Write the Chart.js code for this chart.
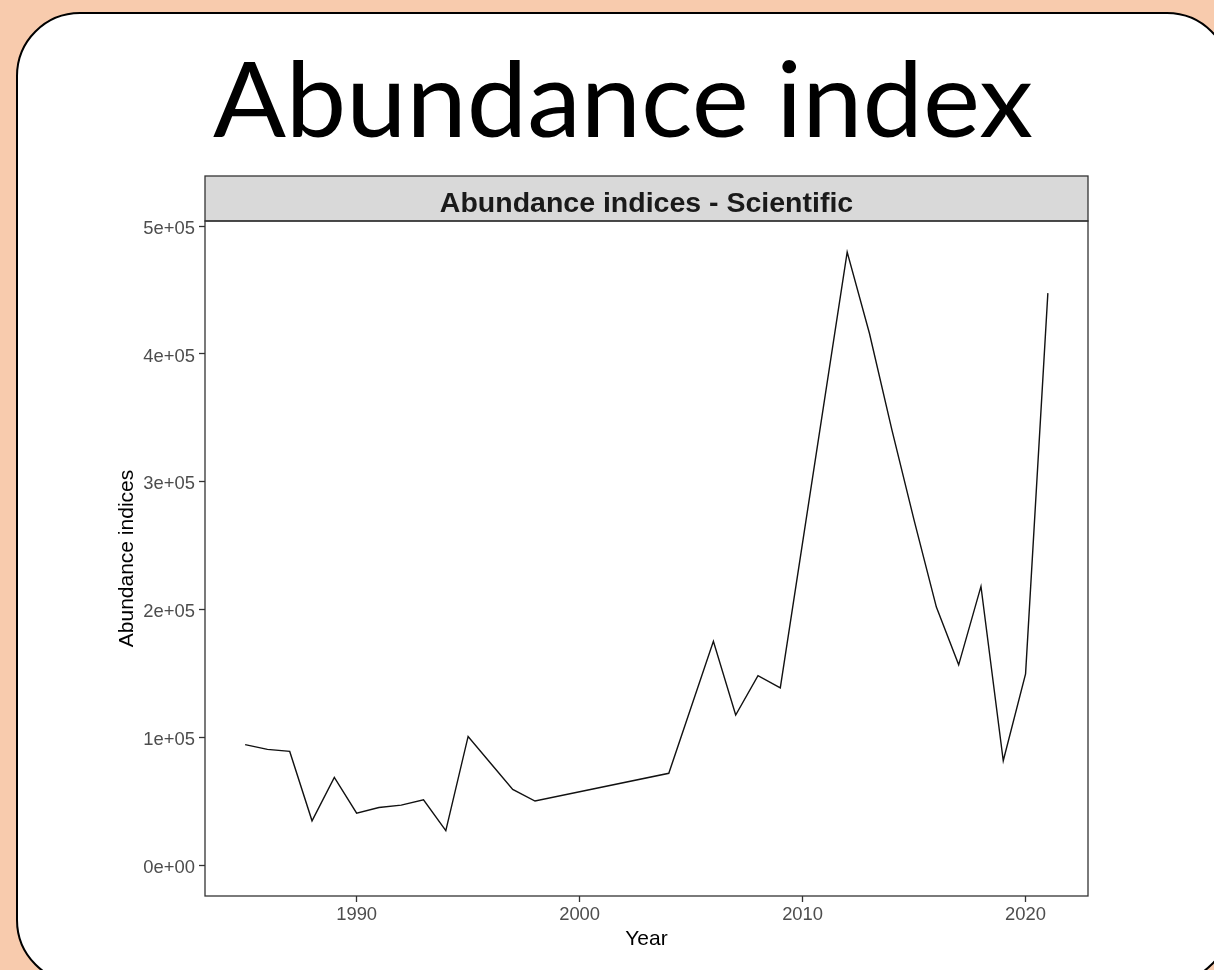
<!DOCTYPE html>
<html>
<head>
<meta charset="utf-8">
<title>Abundance index</title>
<script src="https://cdn.jsdelivr.net/npm/chart.js@4.4.1/dist/chart.umd.min.js"></script>
<style>
  html, body { margin: 0; padding: 0; }
  body { width: 1214px; height: 970px; overflow: hidden; background: #F8CBAD; position: relative; }
  #card { position: absolute; left: 16px; top: 12px; width: 1215px; height: 972px; box-sizing: border-box;
          border: 2.5px solid #000; border-radius: 64px; background: #fff; }
  #heading { position: absolute; left: 0; top: 0; }
  #wrap { position: absolute; left: 0; top: 0; width: 1214px; height: 970px; }
</style>
</head>
<body>
<div id="card"></div>
<svg id="heading" width="1214" height="170">
  <text x="213" y="137" textLength="820" lengthAdjust="spacingAndGlyphs"
        font-family="Lato" font-size="105" fill="#000">Abundance index</text>
</svg>
<div id="wrap"><canvas id="chart" width="1214" height="970"></canvas></div>
<script>
// Survey years and the scientific abundance index for each
const years = [1985, 1986, 1987, 1988, 1989, 1990, 1991, 1992, 1993, 1994, 1995, 1996, 1997, 1998,
               2004, 2006, 2007, 2008, 2009, 2012, 2013, 2014, 2015, 2016, 2017, 2018, 2019, 2020, 2021];
const abundance = [94400, 90700, 89100, 34800, 68700, 40800, 45200, 47100, 51200, 27200, 100800, 80000, 59400, 50300,
                   72000, 175300, 117600, 148400, 138800, 479700, 416000, 341000, 270000, 202000, 156800, 218200, 81800, 149800, 447600];

// Axis ticks
const yearTicks = [1990, 2000, 2010, 2020];
const yearTickLabels = ['1990', '2000', '2010', '2020'];
const abundanceTicks = [0, 100000, 200000, 300000, 400000, 500000];
const abundanceTickLabels = ['0e+00', '1e+05', '2e+05', '3e+05', '4e+05', '5e+05'];

const panelTitle = 'Abundance indices - Scientific';
const xTitle = 'Year';
const yTitle = 'Abundance indices';

const SANS = '"Liberation Sans", Arial, sans-serif';
const INK = '#333333';

// Facet strip above the panel and the panel frame
const panelFrame = {
  id: 'panelFrame',
  afterDraw(chart) {
    const { ctx, chartArea: a } = chart;
    ctx.save();
    const stripH = 45;
    ctx.fillStyle = '#D9D9D9';
    ctx.fillRect(a.left, a.top - stripH, a.right - a.left, stripH);
    ctx.lineWidth = 1.3;
    ctx.strokeStyle = INK;
    ctx.strokeRect(a.left, a.top - stripH, a.right - a.left, stripH);
    ctx.strokeRect(a.left, a.top, a.right - a.left, a.bottom - a.top);
    ctx.fillStyle = '#1A1A1A';
    ctx.font = 'bold 28.5px ' + SANS;
    ctx.textAlign = 'center';
    ctx.textBaseline = 'alphabetic';
    ctx.fillText(panelTitle, (a.left + a.right) / 2, a.top - 9.5);
    ctx.restore();
  }
};

const tickGrid = { drawOnChartArea: false, drawTicks: true, tickLength: 6, tickColor: INK, tickWidth: 1.3 };
const tickFont = { family: SANS, size: 18.4, lineHeight: 1 };
const titleFont = { family: SANS, size: 21, lineHeight: 1 };

new Chart(document.getElementById('chart'), {
  type: 'line',
  data: {
    datasets: [{
      label: panelTitle,
      data: years.map((yr, i) => ({ x: yr, y: abundance[i] })),
      borderColor: '#111111',
      borderWidth: 1.4,
      pointRadius: 0,
      fill: false,
      tension: 0
    }]
  },
  options: {
    responsive: false,
    animation: false,
    devicePixelRatio: 1,
    events: [],
    layout: { padding: { top: 221, right: 126, bottom: 0, left: 0 } },
    plugins: { legend: { display: false }, tooltip: { enabled: false }, title: { display: false } },
    scales: {
      x: {
        type: 'linear',
        min: 1983.2,
        max: 2022.8,
        afterBuildTicks: s => { s.ticks = yearTicks.map(v => ({ value: v })); },
        afterFit: s => { s.height = 74; },
        ticks: { callback: (v, i) => yearTickLabels[i], color: '#4D4D4D', font: tickFont, padding: 4, maxRotation: 0, autoSkip: false },
        grid: tickGrid,
        border: { display: false },
        title: { display: true, text: xTitle, color: '#000', font: titleFont, padding: { top: 0, bottom: 20 } }
      },
      y: {
        type: 'linear',
        min: -24000,
        max: 504000,
        afterBuildTicks: s => { s.ticks = abundanceTicks.map(v => ({ value: v })); },
        afterFit: s => { s.width = 205; },
        ticks: { callback: (v, i) => abundanceTickLabels[i], color: '#4D4D4D', font: tickFont, padding: 4, labelOffset: 2.5, autoSkip: false },
        grid: tickGrid,
        border: { display: false },
        title: { display: true, text: yTitle, color: '#000', font: titleFont, padding: { top: 117, bottom: 0 } }
      }
    }
  },
  plugins: [panelFrame]
});
</script>
</body>
</html>
